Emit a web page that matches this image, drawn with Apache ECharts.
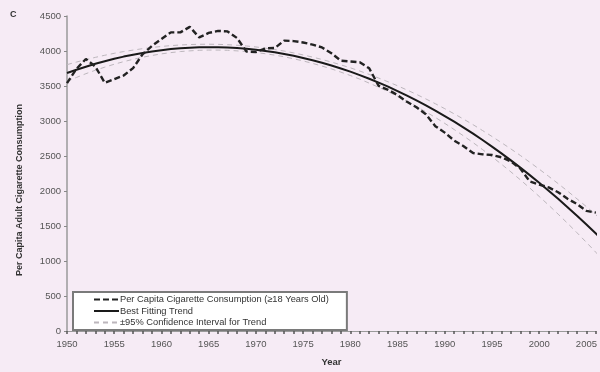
<!DOCTYPE html>
<html>
<head>
<meta charset="utf-8">
<script src="https://cdn.jsdelivr.net/npm/echarts@6/dist/echarts.min.js"></script>
<style>
  html, body { margin: 0; padding: 0; background: #f6ebf5; }
  #chart { width: 600px; height: 372px; }
</style>
</head>
<body>
<div id="chart"></div>
<script>
// Years on the horizontal axis (one point per year)
const years = [1950,1951,1952,1953,1954,1955,1956,1957,1958,1959,
               1960,1961,1962,1963,1964,1965,1966,1967,1968,1969,
               1970,1971,1972,1973,1974,1975,1976,1977,1978,1979,
               1980,1981,1982,1983,1984,1985,1986,1987,1988,1989,
               1990,1991,1992,1993,1994,1995,1996,1997,1998,1999,
               2000,2001,2002,2003,2004,2005,2006,2007];

// Per capita cigarette consumption, adults 18+ (1950-2006)
const perCapita = [3540,3744,3886,3778,3546,3597,3650,3755,3953,4073,
                   4171,4266,4266,4345,4194,4258,4287,4280,4186,3993,
                   3985,4037,4043,4148,4141,4122,4092,4051,3967,3861,
                   3851,3840,3753,3502,3446,3370,3274,3197,3096,2926,
                   2834,2720,2640,2543,2524,2515,2482,2423,2320,2136,
                   2092,2051,1982,1890,1814,1716,1691];

// Best fitting trend (1950-2007)
const trend = [3685,3732,3776,3817,3854,3889,3920,3947,3972,3993,
               4012,4027,4039,4047,4053,4055,4054,4050,4042,4032,
               4018,4001,3981,3958,3931,3901,3868,3832,3793,3750,
               3705,3656,3603,3548,3490,3428,3363,3295,3223,3149,
               3071,2990,2906,2819,2728,2634,2537,2437,2334,2227,
               2117,2004,1888,1769,1646,1521,1392,1259];

// 95% confidence band around the trend
const ciUpper = [3805,3842,3876,3909,3939,3967,3992,4013,4033,4050,
                 4065,4077,4086,4092,4096,4097,4095,4090,4082,4072,
                 4058,4041,4021,3999,3973,3944,3913,3879,3842,3802,
                 3760,3714,3665,3614,3560,3503,3443,3381,3315,3247,
                 3176,3102,3026,2947,2864,2779,2691,2601,2508,2411,
                 2312,2210,2106,1999,1888,1776,1660,1540];
const ciLower = [3565,3622,3676,3725,3769,3811,3848,3881,3911,3936,
                 3959,3977,3992,4002,4010,4013,4013,4010,4002,3992,
                 3978,3961,3941,3917,3889,3858,3823,3785,3744,3698,
                 3650,3598,3541,3482,3420,3353,3283,3209,3131,3051,
                 2966,2878,2786,2691,2592,2489,2383,2273,2160,2043,
                 1922,1798,1670,1539,1404,1266,1124,978];

// Axis ranges
const xMin = 1950, xMax = 2006, xLabelStep = 5;
const yMin = 0, yMax = 4500, yStep = 500;

const seriesNames = [
  'Per Capita Cigarette Consumption (\u226518 Years Old)',
  'Best Fitting Trend',
  '\u00b195% Confidence Interval for Trend'
];

const toPairs = vals => vals.map((v, i) => [years[i], v]);
const font = 'Liberation Sans, Arial, sans-serif';
const ciColor = '#bcb6bc';

const chart = echarts.init(document.getElementById('chart'), null, { renderer: 'canvas' });

chart.setOption({
  backgroundColor: '#f6ebf5',
  animation: false,
  textStyle: { fontFamily: font },
  grid: { left: 67, right: 4, top: 16, bottom: 36 },
  graphic: [
    { type: 'text', left: 10, top: 10,
      style: { text: 'C', font: 'bold 9px ' + font, fill: '#333' } },
    { type: 'text', x: 20, y: 190, rotation: Math.PI / 2,
      style: { text: 'Per Capita Adult Cigarette Consumption',
               font: 'bold 9px ' + font, fill: '#333',
               align: 'center', verticalAlign: 'middle' } }
  ],
  legend: {
    orient: 'vertical',
    left: 73, top: 292,
    padding: [3, 18, 3, 20],
    itemWidth: 25, itemHeight: 8, itemGap: 2.5,
    backgroundColor: '#ffffff',
    borderColor: '#7a7a7a', borderWidth: 2, borderRadius: 0,
    itemStyle: { opacity: 0 },
    textStyle: { fontSize: 9.3, color: '#333', fontFamily: font, padding: [0, 0, 0, -4] },
    data: seriesNames
  },
  xAxis: {
    type: 'value',
    min: xMin, max: xMax, interval: 1,
    name: 'Year', nameLocation: 'middle', nameGap: 26,
    nameTextStyle: { fontSize: 9.5, fontWeight: 'bold', color: '#333' },
    axisLine: { show: true, lineStyle: { color: '#9a9a9a', width: 1 } },
    axisTick: { show: true, length: 3, lineStyle: { color: '#555', width: 1.5 } },
    axisLabel: {
      fontSize: 9.5, color: '#555', margin: 8,
      formatter: v => (v % xLabelStep === 0 ? String(v) : '')
    },
    splitLine: { show: false }
  },
  yAxis: {
    type: 'value',
    min: yMin, max: yMax, interval: yStep,
    axisLine: { show: true, lineStyle: { color: '#9a9a9a', width: 1.5 } },
    axisTick: { show: true, length: 3, lineStyle: { color: '#888' } },
    axisLabel: { fontSize: 9.5, color: '#555', margin: 6, formatter: v => String(v) },
    splitLine: { show: false }
  },
  series: [
    {
      name: seriesNames[2], type: 'line', data: toPairs(ciUpper),
      showSymbol: false, symbol: 'none', z: 1,
      itemStyle: { color: ciColor },
      lineStyle: { color: ciColor, width: 1, type: [5, 4] }
    },
    {
      name: seriesNames[2], type: 'line', data: toPairs(ciLower),
      showSymbol: false, symbol: 'none', z: 1,
      itemStyle: { color: ciColor },
      lineStyle: { color: ciColor, width: 1, type: [5, 4] }
    },
    {
      name: seriesNames[1], type: 'line', data: toPairs(trend),
      showSymbol: false, symbol: 'none', z: 2,
      itemStyle: { color: '#1a1a1a' },
      lineStyle: { color: '#1a1a1a', width: 2 }
    },
    {
      name: seriesNames[0], type: 'line', data: toPairs(perCapita),
      showSymbol: false, symbol: 'none', z: 3,
      itemStyle: { color: '#222' },
      lineStyle: { color: '#222', width: 2.4, type: [6, 3] }
    }
  ]
});
</script>
</body>
</html>
